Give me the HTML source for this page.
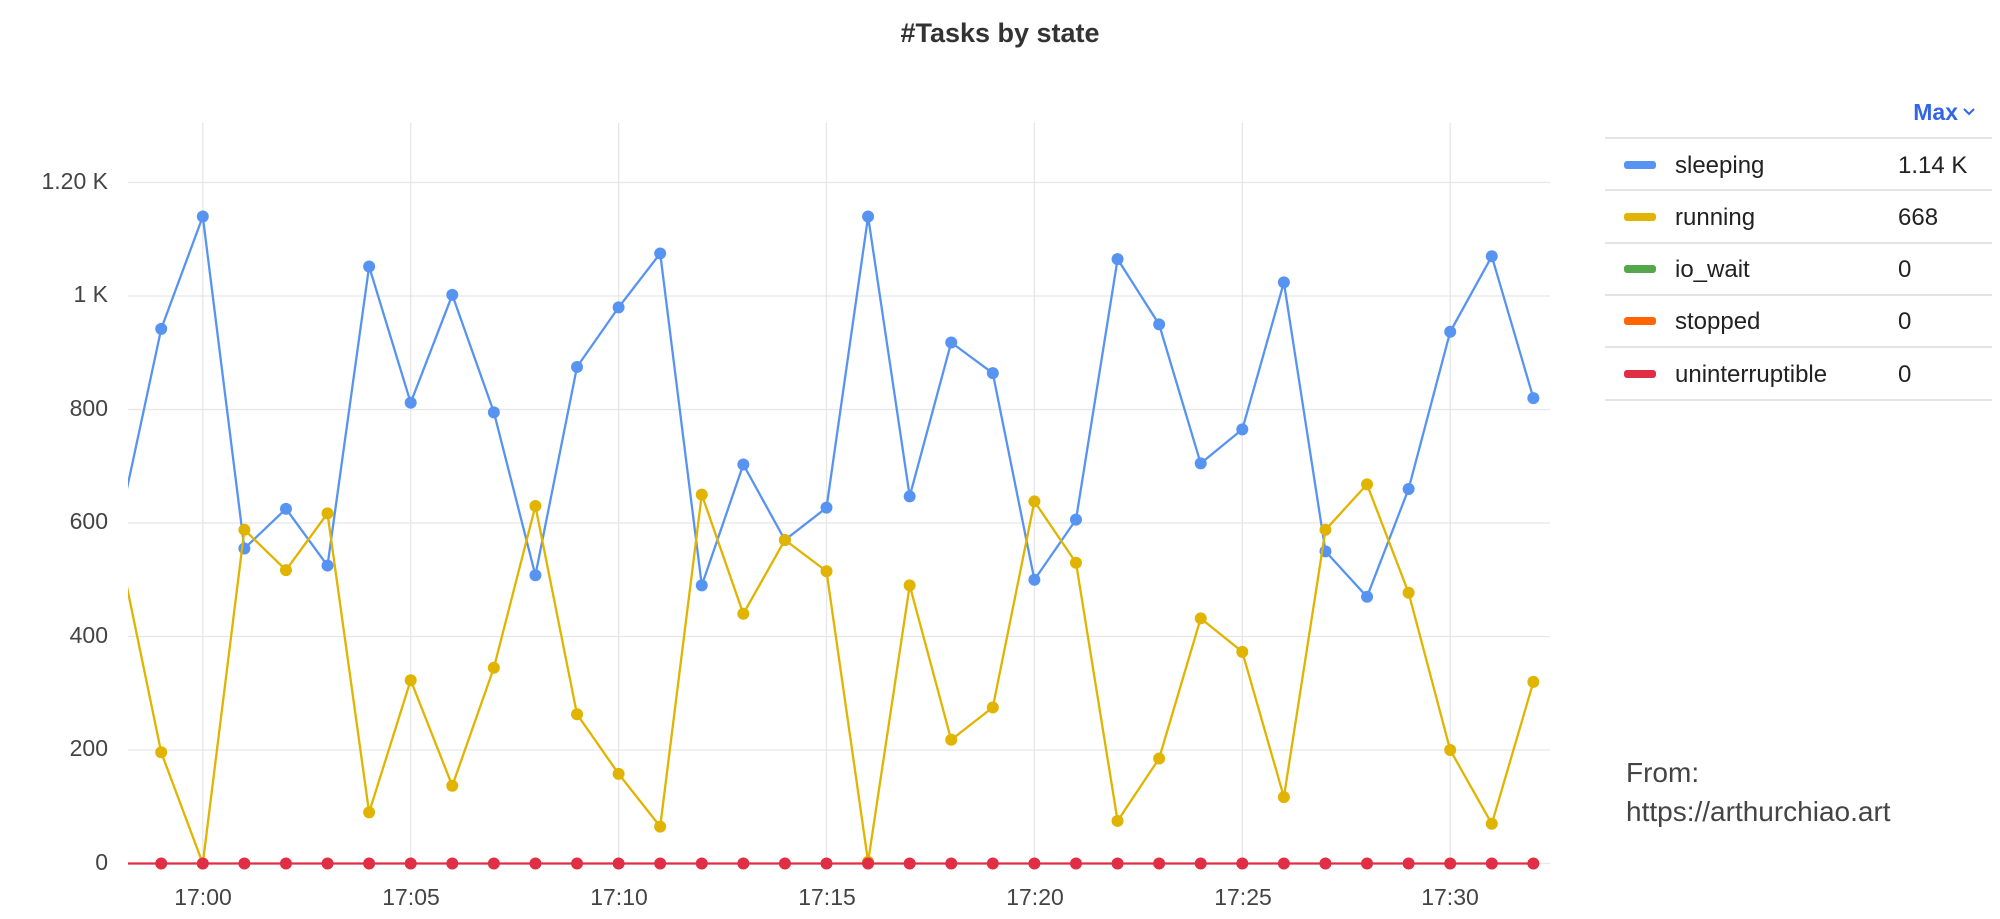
<!DOCTYPE html>
<html><head><meta charset="utf-8"><style>
html,body{margin:0;padding:0;background:#fff;}
body{width:2000px;height:919px;overflow:hidden;position:relative;font-family:"Liberation Sans",sans-serif;}
</style></head><body>
<svg id="s" width="2000" height="919" xmlns="http://www.w3.org/2000/svg" style="position:absolute;left:0;top:0">
<defs><clipPath id="c"><rect x="128" y="120" width="1430" height="760"/></clipPath></defs>
<text x="1000" y="42" text-anchor="middle" font-size="27" font-weight="bold" fill="#333">#Tasks by state</text>
<g id="grid" stroke="#e6e6e6" stroke-width="1.3"></g>
<g font-size="23" fill="#444" text-anchor="end">
<text x="108" y="189">1.20 K</text>
<text x="108" y="302">1 K</text>
<text x="108" y="416">800</text>
<text x="108" y="529">600</text>
<text x="108" y="643">400</text>
<text x="108" y="756">200</text>
<text x="108" y="870">0</text>
</g>
<g font-size="23" fill="#444" text-anchor="middle">
<text x="203" y="905">17:00</text>
<text x="411" y="905">17:05</text>
<text x="619" y="905">17:10</text>
<text x="827" y="905">17:15</text>
<text x="1035" y="905">17:20</text>
<text x="1243" y="905">17:25</text>
<text x="1450" y="905">17:30</text>
</g>
<g id="data" clip-path="url(#c)"></g>
<text x="1958" y="120" text-anchor="end" font-size="23" font-weight="bold" fill="#3366e6">Max</text>
<path d="M1964 109 l5 5 l5 -5" stroke="#3366e6" stroke-width="2" fill="none"/>
<g stroke="#e4e4e4" stroke-width="2">
<line x1="1605" y1="138" x2="1992" y2="138"/>
<line x1="1605" y1="190" x2="1992" y2="190"/>
<line x1="1605" y1="243" x2="1992" y2="243"/>
<line x1="1605" y1="295" x2="1992" y2="295"/>
<line x1="1605" y1="347" x2="1992" y2="347"/>
<line x1="1605" y1="400" x2="1992" y2="400"/>
</g>
<g>
<rect x="1624" y="161" width="32" height="8" rx="3" fill="#5794f2"/>
<rect x="1624" y="213" width="32" height="8" rx="3" fill="#e0b400"/>
<rect x="1624" y="265" width="32" height="8" rx="3" fill="#56a64b"/>
<rect x="1624" y="317" width="32" height="8" rx="3" fill="#ff6600"/>
<rect x="1624" y="370" width="32" height="8" rx="3" fill="#e02f44"/>
</g>
<g font-size="24" fill="#222">
<text x="1675" y="173">sleeping</text><text x="1898" y="173">1.14 K</text>
<text x="1675" y="225">running</text><text x="1898" y="225">668</text>
<text x="1675" y="277">io_wait</text><text x="1898" y="277">0</text>
<text x="1675" y="329">stopped</text><text x="1898" y="329">0</text>
<text x="1675" y="382">uninterruptible</text><text x="1898" y="382">0</text>
</g>
<g font-size="28" fill="#444">
<text x="1626" y="782">From:</text>
<text x="1626" y="821">https://arthurchiao.art</text>
</g>
</svg>
<script>
var NS="http://www.w3.org/2000/svg";
function X(m){return 202.8+m*41.58;}
function Y(v){return 863.5-v*0.5675;}
var g=document.getElementById("grid");
for(var i=0;i<=6;i++){var l=document.createElementNS(NS,"line");l.setAttribute("x1",128);l.setAttribute("x2",1550);l.setAttribute("y1",Y(i*200));l.setAttribute("y2",Y(i*200));g.appendChild(l);}
for(var i=0;i<7;i++){var l=document.createElementNS(NS,"line");var x=X(i*5);l.setAttribute("x1",x);l.setAttribute("x2",x);l.setAttribute("y1",123);l.setAttribute("y2",863);g.appendChild(l);}
var sl=[600,942,1140,555,625,525,1052,812,1002,795,508,875,980,1075,490,703,570,627,1140,647,918,864,500,606,1065,950,705,765,1024,550,470,660,937,1070,820];
var ru=[550,196,0,588,517,617,90,323,137,345,630,263,158,65,650,440,570,515,3,490,218,275,638,530,75,185,432,373,117,588,668,477,200,70,320];
var ze=sl.map(function(){return 0;});
var d=document.getElementById("data");
function series(arr,col){
 var p="";for(var i=0;i<arr.length;i++){p+=(i?"L":"M")+X(i-2).toFixed(1)+" "+Y(arr[i]).toFixed(1);}
 var pa=document.createElementNS(NS,"path");pa.setAttribute("d",p);pa.setAttribute("stroke",col);pa.setAttribute("stroke-width","2.3");pa.setAttribute("fill","none");d.appendChild(pa);
 for(var i=1;i<arr.length;i++){var c=document.createElementNS(NS,"circle");c.setAttribute("cx",X(i-2));c.setAttribute("cy",Y(arr[i]));c.setAttribute("r","6");c.setAttribute("fill",col);d.appendChild(c);}
}
series(sl,"#5794f2");series(ru,"#e0b400");series(ze,"#e02f44");
</script>
</body></html>
